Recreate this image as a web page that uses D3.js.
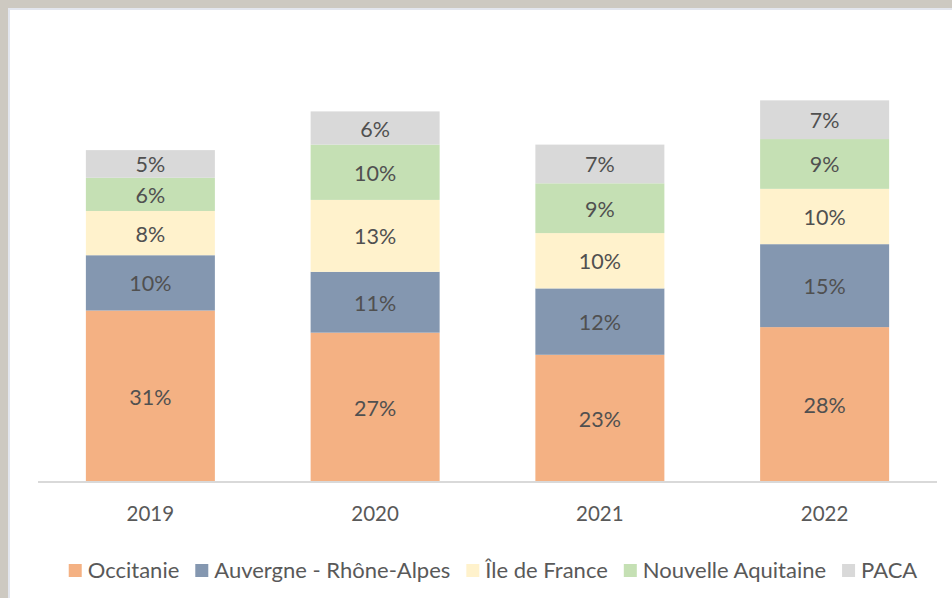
<!DOCTYPE html>
<html>
<head>
<meta charset="utf-8">
<script src="https://cdn.jsdelivr.net/npm/d3@7"></script>
<style>
  html, body { margin: 0; padding: 0; background: #cdc9c1; }
  svg { display: block; }
</style>
</head>
<body>
<svg id="chart" width="952" height="598"></svg>
<script>
const years = ["2019", "2020", "2021", "2022"];
const seriesNames = ["Occitanie", "Auvergne - Rhône-Alpes", "Île de France", "Nouvelle Aquitaine", "PACA"];
const occitanie = [31, 27, 23, 28];
const auvergne = [10, 11, 12, 15];
const ileDeFrance = [8, 13, 10, 10];
const nouvelleAquitaine = [6, 10, 9, 9];
const paca = [5, 6, 7, 7];
const colors = ["#F4B183", "#8497B0", "#FFF2CC", "#C5E0B4", "#D9D9D9"];

const seriesValues = [occitanie, auvergne, ileDeFrance, nouvelleAquitaine, paca];
const rows = years.map((y, i) => {
  const r = { year: y };
  seriesNames.forEach((s, j) => r[s] = seriesValues[j][i]);
  return r;
});

const svg = d3.select("#chart");
const font = "Lato, 'Open Sans', sans-serif";
const textColor = "#595959";

// frame
svg.append("rect").attr("x", 0).attr("y", 0).attr("width", 952).attr("height", 598).attr("fill", "#cdc9c1");
svg.append("rect").attr("x", 9).attr("y", 9).attr("width", 960).attr("height", 600)
  .attr("fill", "#ffffff").attr("stroke", "#e3e6ee").attr("stroke-width", 2);

const x = d3.scaleBand().domain(years).range([38, 937]).paddingInner(0.426).paddingOuter(0.213);
const y = d3.scaleLinear().domain([0, 80]).range([482, 39.5]);

const stack = d3.stack().keys(seriesNames)(rows);

const g = svg.append("g");
stack.forEach((layer, li) => {
  const lg = g.append("g");
  lg.selectAll("rect").data(layer).join("rect")
    .attr("x", d => x(d.data.year))
    .attr("width", x.bandwidth())
    .attr("y", d => y(d[1]))
    .attr("height", d => y(d[0]) - y(d[1]))
    .attr("fill", colors[li]);
  lg.selectAll("text").data(layer).join("text")
    .attr("x", d => x(d.data.year) + x.bandwidth() / 2)
    .attr("y", d => (y(d[0]) + y(d[1])) / 2 + 8.5)
    .attr("text-anchor", "middle")
    .attr("font-family", font)
    .attr("font-size", 21.5)
    .attr("fill", "#505050")
    .text(d => (d[1] - d[0]) + "%");
});

// x axis
const xAxis = svg.append("g").attr("transform", "translate(0,482)")
  .call(d3.axisBottom(x).tickSize(0).tickPadding(25));
xAxis.select(".domain").attr("stroke", "#d9d9d9").attr("stroke-width", 2).attr("d", "M38,0H937");
xAxis.selectAll("text").attr("font-family", font).attr("font-size", 20.5).attr("fill", textColor)
  .attr("dy", "0").attr("y", 39);

// legend
const legend = svg.append("g");
const items = legend.selectAll("g").data(seriesNames).join("g");
items.append("rect").attr("width", 13).attr("height", 13).attr("y", 564)
  .attr("fill", (d, i) => colors[i]);
items.append("text").attr("x", 19).attr("y", 578)
  .attr("font-family", font).attr("font-size", 22).attr("fill", textColor)
  .text(d => d);
const widths = [];
items.each(function () {
  widths.push(d3.select(this).select("text").node().getComputedTextLength());
});
const gap = 16;
const total = widths.reduce((a, w) => a + 19 + w, 0) + gap * (widths.length - 1);
let start = 493 - total / 2;
items.attr("transform", (d, i) => {
  const t = `translate(${start},0)`;
  start += 19 + widths[i] + gap;
  return t;
});
</script>
</body>
</html>
